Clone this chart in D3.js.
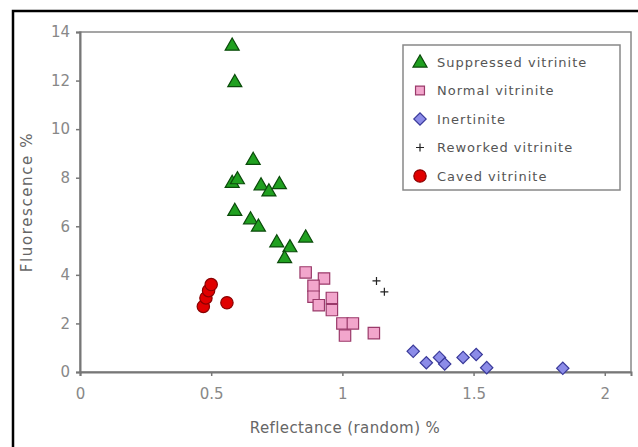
<!DOCTYPE html>
<html>
<head>
<meta charset="utf-8">
<script src="https://cdn.jsdelivr.net/npm/d3@7"></script>
<style>
  body { margin: 0; background: #fff; }
  svg text { font-family: "DejaVu Sans", sans-serif; fill: #666; }
</style>
</head>
<body>
<div id="chart"></div>
<script>
// reflectance (x) / fluorescence (y) for each maceral group
var suppressedX = [0.58, 0.59, 0.66, 0.58, 0.60, 0.69, 0.72, 0.76, 0.59, 0.65, 0.68, 0.75, 0.80, 0.78, 0.86];
var suppressedY = [13.5, 12.0, 8.8, 7.85, 8.0, 7.75, 7.5, 7.8, 6.7, 6.35, 6.05, 5.4, 5.2, 4.75, 5.6];

var normalX = [0.86, 0.93, 0.89, 0.89, 0.96, 0.91, 0.96, 1.00, 1.04, 1.01, 1.12];
var normalY = [4.1, 3.85, 3.55, 3.1, 3.05, 2.75, 2.55, 2.0, 2.0, 1.5, 1.6];

var inertiniteX = [1.27, 1.32, 1.37, 1.39, 1.46, 1.51, 1.55, 1.84];
var inertiniteY = [0.85, 0.38, 0.6, 0.33, 0.6, 0.72, 0.18, 0.15];

var reworkedX = [1.13, 1.16];
var reworkedY = [3.75, 3.3];

var cavedX = [0.47, 0.48, 0.49, 0.50, 0.56];
var cavedY = [2.7, 3.05, 3.35, 3.6, 2.85];

var xTicks = [0, 0.5, 1, 1.5, 2];
var yTicks = [0, 2, 4, 6, 8, 10, 12, 14];

var legendLabels = ["Suppressed vitrinite", "Normal vitrinite", "Inertinite", "Reworked vitrinite", "Caved vitrinite"];

var width = 638, height = 447;
var plotLeft = 80, plotRight = 631, plotTop = 32, plotBottom = 372;

var svg = d3.select("#chart").append("svg")
    .attr("width", width)
    .attr("height", height);

// black outer frame (only left/top visible in the crop)
svg.append("rect")
    .attr("x", 13).attr("y", 11)
    .attr("width", 700).attr("height", 500)
    .style("fill", "none")
    .style("stroke", "#000")
    .style("stroke-width", 2.5);

var x = d3.scaleLinear().domain([0, 2.1]).range([plotLeft, plotRight]);
var y = d3.scaleLinear().domain([0, 14]).range([plotBottom, plotTop]);

// plot border
svg.append("rect")
    .attr("x", plotLeft).attr("y", plotTop)
    .attr("width", plotRight - plotLeft).attr("height", plotBottom - plotTop)
    .style("fill", "none")
    .style("stroke", "#888")
    .style("stroke-width", 1.5);

var xAxis = svg.append("g")
    .attr("transform", "translate(0," + plotBottom + ")")
    .call(d3.axisBottom(x).tickValues(xTicks).tickSize(4).tickPadding(12)
        .tickFormat(function(d) { return d; }));
var yAxis = svg.append("g")
    .attr("transform", "translate(" + plotLeft + ",0)")
    .call(d3.axisLeft(y).tickValues(yTicks).tickSize(4).tickPadding(6));

[xAxis, yAxis].forEach(function(ax) {
    ax.select(".domain").style("stroke", "#777").style("stroke-width", 2);
    ax.selectAll(".tick line").style("stroke", "#777").style("stroke-width", 1.5);
    ax.selectAll(".tick text").style("font-size", "15px").style("fill", "#888");
});

svg.append("text")
    .attr("x", 345).attr("y", 433)
    .attr("text-anchor", "middle")
    .style("font-size", "15px")
    .style("letter-spacing", "0.4px")
    .text("Reflectance (random) %");

svg.append("text")
    .attr("transform", "translate(32,202) rotate(-90)")
    .attr("text-anchor", "middle")
    .style("font-size", "15px")
    .style("letter-spacing", "1.6px")
    .text("Fluorescence %");

function zip(xs, ys) {
    return xs.map(function(v, i) { return [v, ys[i]]; });
}

var triangle = d3.symbol().type(d3.symbolTriangle).size(85);
var square = d3.symbol().type(d3.symbolSquare).size(130);
var diamond = d3.symbol().type(d3.symbolSquare).size(76);
var circle = d3.symbol().type(d3.symbolCircle).size(120);

var series = [
    { pts: zip(cavedX, cavedY), path: circle, fill: "#e00000", stroke: "#8a0000", dy: 0, rot: 0 },
    { pts: zip(normalX, normalY), path: square, fill: "#f2a6cc", stroke: "#9a3a6a", dy: 0, rot: 0 },
    { pts: zip(inertiniteX, inertiniteY), path: diamond, fill: "#8c8ce8", stroke: "#3a3a9a", dy: 0, rot: 45 },
    { pts: zip(reworkedX, reworkedY), path: null, fill: "none", stroke: "#222", dy: 0, rot: 0 },
    { pts: zip(suppressedX, suppressedY), path: triangle, fill: "#20a020", stroke: "#0a4a0a", dy: 2, rot: 0 }
];

series.forEach(function(s) {
    var g = svg.append("g");
    if (s.path) {
        g.selectAll("path").data(s.pts).enter().append("path")
            .attr("d", s.path)
            .attr("transform", function(d) {
                return "translate(" + x(d[0]) + "," + (y(d[1]) + s.dy) + ") rotate(" + s.rot + ")";
            })
            .style("fill", s.fill)
            .style("stroke", s.stroke)
            .style("stroke-width", 1.2);
    } else {
        // thin plus marks
        g.selectAll("path").data(s.pts).enter().append("path")
            .attr("d", "M-4,0H4M0,-4V4")
            .attr("transform", function(d) { return "translate(" + x(d[0]) + "," + y(d[1]) + ")"; })
            .style("stroke", s.stroke)
            .style("stroke-width", 1.2);
    }
});

// legend
var legend = svg.append("g");
legend.append("rect")
    .attr("x", 403).attr("y", 45)
    .attr("width", 217).attr("height", 145)
    .style("fill", "#fff")
    .style("stroke", "#888")
    .style("stroke-width", 1.5);

var legendMarks = [
    { path: triangle, fill: "#20a020", stroke: "#0a4a0a", rot: 0 },
    { path: d3.symbol().type(d3.symbolSquare).size(80), fill: "#f2a6cc", stroke: "#9a3a6a", rot: 0 },
    { path: diamond, fill: "#8c8ce8", stroke: "#3a3a9a", rot: 45 },
    { path: null, fill: "none", stroke: "#222", rot: 0 },
    { path: circle, fill: "#e00000", stroke: "#8a0000", rot: 0 }
];

legendLabels.forEach(function(label, i) {
    var ly = 62 + i * 28.5;
    var m = legendMarks[i];
    if (m.path) {
        legend.append("path")
            .attr("d", m.path)
            .attr("transform", "translate(420," + (ly + (i === 0 ? 1 : 0)) + ") rotate(" + m.rot + ")")
            .style("fill", m.fill).style("stroke", m.stroke).style("stroke-width", 1.2);
    } else {
        legend.append("path")
            .attr("d", "M-4,0H4M0,-4V4")
            .attr("transform", "translate(420," + ly + ")")
            .style("stroke", m.stroke).style("stroke-width", 1.2);
    }
    legend.append("text")
        .attr("x", 437).attr("y", ly)
        .attr("dy", "0.35em")
        .style("font-size", "13px")
        .style("letter-spacing", "1px")
        .style("fill", "#555")
        .text(label);
});
</script>
</body>
</html>
